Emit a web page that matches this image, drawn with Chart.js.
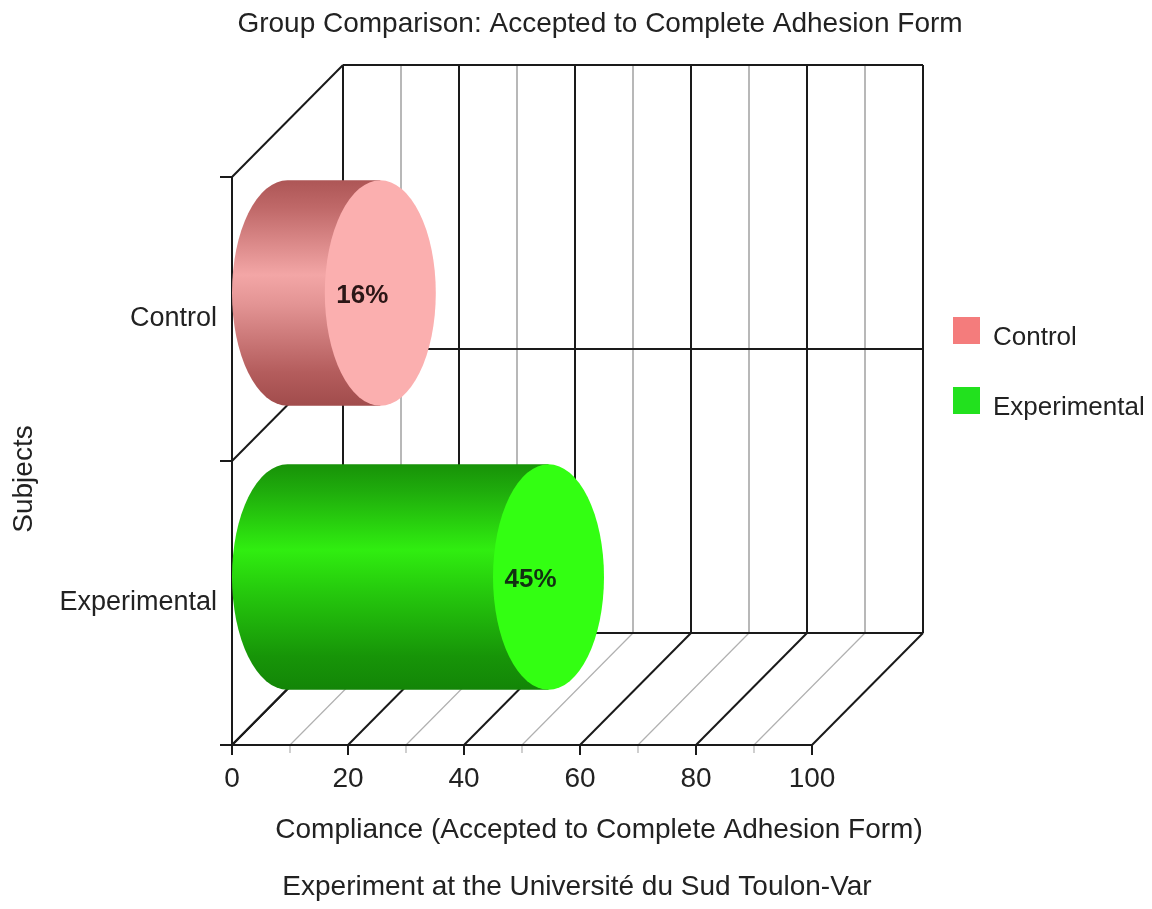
<!DOCTYPE html>
<html>
<head>
<meta charset="utf-8">
<script src="https://cdn.jsdelivr.net/npm/chart.js@4.4.1/dist/chart.umd.min.js"></script>
<style>
  body { margin: 0; background: #fff; }
  #wrap { width: 1152px; height: 909px; position: relative; }
</style>
</head>
<body>
<div id="wrap"><canvas id="myChart"></canvas></div>
<script>
// data
const groups = ['Control', 'Experimental'];
const compliance = [16, 45];
const legendColors = ['#f47c7c', '#22e11e'];
const xMin = 0, xMax = 100, xStep = 20, xMinorStep = 10;

const titleText = 'Group Comparison: Accepted to Complete Adhesion Form';
const xTitle = 'Compliance (Accepted to Complete Adhesion Form)';
const yTitle = 'Subjects';
const footText = 'Experiment at the Université du Sud Toulon-Var';

const FONT = "'Liberation Sans', Arial, sans-serif";
const TXT = '#222';
// depth of the fake 3d box
const DX = 111, DY = -112;

// cylinder colours (body gradient + front cap)
const cylStyle = [
  { stops: [[0, '#ad5656'], [0.12, '#bf6868'], [0.42, '#f3a6a6'], [0.55, '#e39494'], [0.85, '#b45d5d'], [1, '#a14c4c']],
    cap: '#fbafaf', label: '#2b1616' },
  { stops: [[0, '#189208'], [0.12, '#1fac0c'], [0.38, '#30ee10'], [0.55, '#26cc0d'], [0.85, '#179508'], [1, '#138507']],
    cap: '#33ff12', label: '#123012' }
];

function line(ctx, x1, y1, x2, y2, color, w) {
  ctx.beginPath();
  ctx.moveTo(x1, y1);
  ctx.lineTo(x2, y2);
  ctx.strokeStyle = color;
  ctx.lineWidth = w;
  ctx.stroke();
}

const frame3d = {
  id: 'frame3d',
  beforeDatasetsDraw(chart) {
    const { ctx, chartArea: a, scales: { x, y } } = chart;
    ctx.save();
    // minor grid (gray)
    for (let v = xMin + xMinorStep; v < xMax; v += xStep) {
      const px = x.getPixelForValue(v);
      line(ctx, px + DX, a.top + DY, px + DX, a.bottom + DY, '#b8b8b8', 2);
      line(ctx, px, a.bottom, px + DX, a.bottom + DY, '#b0b0b0', 1.2);
      line(ctx, px, a.bottom, px, a.bottom + 8, '#b0b0b0', 1.2);
    }
    // major grid (black)
    for (let v = xMin; v <= xMax; v += xStep) {
      const px = x.getPixelForValue(v);
      line(ctx, px + DX, a.top + DY, px + DX, a.bottom + DY, '#1a1a1a', 2);
      line(ctx, px, a.bottom, px + DX, a.bottom + DY, '#1a1a1a', 2);
      line(ctx, px, a.bottom, px, a.bottom + 10, '#1a1a1a', 2);
    }
    // category boundaries: left wall diagonals + back wall horizontals
    const bounds = [a.top, (y.getPixelForValue(0) + y.getPixelForValue(1)) / 2, a.bottom];
    bounds.forEach(by => {
      line(ctx, a.left, by, a.left + DX, by + DY, '#1a1a1a', 2);
      line(ctx, a.left + DX, by + DY, a.right + DX, by + DY, '#1a1a1a', 2);
      line(ctx, a.left - 12, by, a.left, by, '#1a1a1a', 2);
    });
    line(ctx, a.left, a.top, a.left, a.bottom, '#1a1a1a', 2);
    line(ctx, a.left, a.bottom, a.right, a.bottom, '#1a1a1a', 2);
    ctx.restore();
  },
  afterDatasetsDraw(chart) {
    const { ctx } = chart;
    const meta = chart.getDatasetMeta(0);
    ctx.save();
    meta.data.forEach((bar, i) => {
      const p = bar.getProps(['x', 'y', 'base', 'height'], true);
      const st = cylStyle[i];
      const rx = DX / 2, ry = p.height / 2;
      const xa = p.base + DX / 2, xb = p.x + DX / 2;
      const cy = p.y + DY / 4 + 2;
      // body
      const g = ctx.createLinearGradient(0, cy - ry, 0, cy + ry);
      st.stops.forEach(s => g.addColorStop(s[0], s[1]));
      ctx.beginPath();
      ctx.moveTo(xb, cy - ry);
      ctx.lineTo(xa, cy - ry);
      ctx.ellipse(xa, cy, rx, ry, 0, -Math.PI / 2, Math.PI / 2, true);
      ctx.lineTo(xb, cy + ry);
      ctx.closePath();
      ctx.fillStyle = g;
      ctx.fill();
      // front cap
      ctx.beginPath();
      ctx.ellipse(xb, cy, rx, ry, 0, 0, Math.PI * 2);
      ctx.fillStyle = st.cap;
      ctx.fill();
      // value label
      ctx.font = 'bold 26px ' + FONT;
      ctx.fillStyle = st.label;
      ctx.textAlign = 'center';
      ctx.textBaseline = 'middle';
      ctx.fillText(compliance[i] + '%', xb - 18, cy + 3);
    });
    ctx.restore();
  },
  afterDraw(chart) {
    const { ctx } = chart;
    ctx.save();
    ctx.fillStyle = TXT;
    ctx.textAlign = 'center';
    ctx.textBaseline = 'alphabetic';
    ctx.font = '28px ' + FONT;
    ctx.fillText(titleText, 600, 32);
    ctx.fillText(xTitle, 599, 838);
    ctx.fillText(footText, 577, 895);
    // y title
    ctx.save();
    ctx.translate(24, 479);
    ctx.rotate(-Math.PI / 2);
    ctx.textBaseline = 'middle';
    ctx.fillText(yTitle, 0, 0);
    ctx.restore();
    // legend
    ctx.textAlign = 'left';
    ctx.font = '26px ' + FONT;
    groups.forEach((gname, i) => {
      const top = 317 + i * 70;
      ctx.fillStyle = legendColors[i];
      ctx.fillRect(953, top, 27, 27);
      ctx.fillStyle = TXT;
      ctx.fillText(gname, 993, top + 28);
    });
    ctx.restore();
  }
};

const ctx = document.getElementById('myChart');

new Chart(ctx, {
  type: 'bar',
  data: {
    labels: groups,
    datasets: [{
      label: 'Compliance',
      data: compliance,
      backgroundColor: 'rgba(0,0,0,0)',
      borderWidth: 0,
      categoryPercentage: 0.794,
      barPercentage: 1
    }]
  },
  options: {
    indexAxis: 'y',
    responsive: true,
    maintainAspectRatio: false,
    animation: false,
    layout: { padding: { top: 177, right: 340, bottom: 0, left: 0 } },
    plugins: {
      legend: { display: false },
      title: { display: false },
      tooltip: { enabled: false }
    },
    scales: {
      x: {
        min: xMin,
        max: xMax,
        grid: { display: false, drawTicks: false },
        border: { display: false },
        ticks: { stepSize: xStep, padding: 17, maxRotation: 0, color: TXT, font: { family: FONT, size: 28 } },
        afterFit(scale) { scale.height = 164; }
      },
      y: {
        grid: { display: false, drawTicks: false },
        border: { display: false },
        ticks: { padding: 15, color: TXT, font: { family: FONT, size: 27 } },
        afterFit(scale) { scale.width = 232; }
      }
    }
  },
  plugins: [frame3d]
});
</script>
</body>
</html>
